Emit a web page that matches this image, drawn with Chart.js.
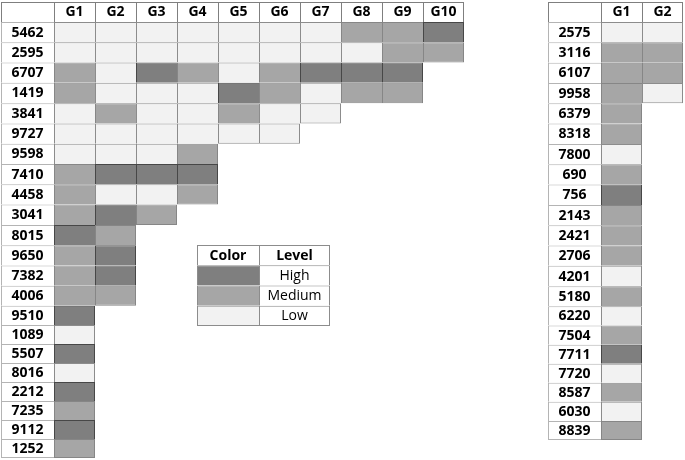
<!DOCTYPE html>
<html>
<head>
<meta charset="utf-8">
<script src="https://cdn.jsdelivr.net/npm/chart.js@4.4.0/dist/chart.umd.min.js"></script>
<style>
  html, body { margin: 0; padding: 0; background: #fff; }
  body { width: 685px; height: 460px; position: relative; overflow: hidden; }
  .box { position: absolute; }
</style>
</head>
<body>
<div class="box" style="left:1px;top:2px;width:463px;height:456px"><canvas id="left"></canvas></div>
<div class="box" style="left:197px;top:245px;width:133px;height:81px"><canvas id="legend"></canvas></div>
<div class="box" style="left:548px;top:2px;width:135px;height:438px"><canvas id="right"></canvas></div>
<script>
// levels: 3 = High, 2 = Medium, 1 = Low
const leftCols = ['G1', 'G2', 'G3', 'G4', 'G5', 'G6', 'G7', 'G8', 'G9', 'G10'];
const leftRows = ['5462', '2595', '6707', '1419', '3841', '9727', '9598', '7410', '4458', '3041', '8015',
  '9650', '7382', '4006', '9510', '1089', '5507', '8016', '2212', '7235', '9112', '1252'];
const leftLevels = [
  [1, 1, 1, 1, 1, 1, 1, 2, 2, 3],
  [1, 1, 1, 1, 1, 1, 1, 1, 2, 2],
  [2, 1, 3, 2, 1, 2, 3, 3, 3],
  [2, 1, 1, 1, 3, 2, 1, 2, 2],
  [1, 2, 1, 1, 2, 1, 1],
  [1, 1, 1, 1, 1, 1],
  [1, 1, 1, 2],
  [2, 3, 3, 3],
  [2, 1, 1, 2],
  [2, 3, 2],
  [3, 2],
  [2, 3],
  [2, 3],
  [2, 2],
  [3], [1], [3], [1], [3], [2], [3], [2]
];

const rightCols = ['G1', 'G2'];
const rightRows = ['2575', '3116', '6107', '9958', '6379', '8318', '7800', '690', '756', '2143', '2421',
  '2706', '4201', '5180', '6220', '7504', '7711', '7720', '8587', '6030', '8839'];
const rightLevels = [
  [1, 1], [2, 2], [2, 2], [2, 1],
  [2], [2], [1], [2], [3], [2], [2], [2], [1], [2], [1], [2], [3], [1], [2], [1], [2]
];

const legendHeader = ['Color', 'Level'];
const legendLevels = [3, 2, 1];
const legendNames = ['High', 'Medium', 'Low'];

const levelColors = { 3: '#7f7f7f', 2: '#a6a6a6', 1: '#f2f2f2' };
const levelLines = { 3: '#474747', 2: '#868686', 1: '#8c8c8c' };

// row heights: header, the first 14 rows are a bit taller than the rest
function rowHeights(n, lower) {
  const h = [20];
  for (let i = 0; i < n; i++) h.push(i < 14 ? 20.3 : lower);
  return h;
}

const cellText = {
  id: 'cellText',
  afterDatasetsDraw(chart) {
    const ctx = chart.ctx;
    ctx.save();
    ctx.textAlign = 'center';
    ctx.textBaseline = 'middle';
    ctx.fillStyle = '#000';
    chart.data.datasets.forEach((ds, i) => {
      const meta = chart.getDatasetMeta(i);
      meta.data.forEach((bar, j) => {
        const cell = ds.cells[j];
        if (!cell || !cell.text) return;
        const p = bar.getCenterPoint();
        ctx.font = (cell.bold ? 'bold ' : '') + '14px "Open Sans"';
        ctx.fillText(cell.text, p.x, p.y + 0.5);
      });
    });
    ctx.restore();
  }
};

// grid: rows of cells {fill, text, bold, line}; widths / heights in scale units
function drawTable(id, grid, widths, heights) {
  const edges = [0];
  widths.forEach(w => edges.push(edges[edges.length - 1] + w));
  const centers = [];
  let acc = 0;
  heights.forEach(h => { centers.push(acc + h / 2); acc += h; });
  const has = (r, c) => !!(grid[r] && grid[r][c]);

  const datasets = widths.map((w, c) => ({
    data: grid.map((row, r) => ({ y: centers[r], x: has(r, c) ? [edges[c], edges[c + 1]] : null })),
    cells: grid.map(row => row[c] || null),
    stack: 'table',
    barThickness: 'flex',
    categoryPercentage: 1,
    barPercentage: 1,
    borderSkipped: false,
    inflateAmount: 0,
    backgroundColor: ctx => has(ctx.dataIndex, c) ? grid[ctx.dataIndex][c].fill : 'transparent',
    borderColor: ctx => has(ctx.dataIndex, c) ? grid[ctx.dataIndex][c].line : 'transparent',
    borderWidth: ctx => {
      const r = ctx.dataIndex;
      return { top: 1, left: 1, right: has(r, c + 1) ? 0 : 1, bottom: has(r + 1, c) ? 0 : 1 };
    }
  }));

  new Chart(document.getElementById(id), {
    type: 'bar',
    data: { datasets },
    options: {
      indexAxis: 'y',
      responsive: true,
      maintainAspectRatio: false,
      animation: false,
      devicePixelRatio: 1,
      layout: { padding: 0 },
      plugins: { legend: { display: false }, tooltip: { enabled: false } },
      scales: {
        x: { type: 'linear', display: false, stacked: false, min: 0, max: edges[edges.length - 1] },
        y: { type: 'linear', display: false, offset: false, reverse: true, min: 0, max: acc }
      }
    },
    plugins: [cellText]
  });
}

function buildGrid(cols, rows, levels) {
  const dark = '#7f7f7f', light = '#b4b4b4';
  const grid = [[{ fill: '#fff', line: dark }].concat(cols.map(t => ({ fill: '#fff', text: t, bold: true, line: dark })))];
  rows.forEach((name, r) => {
    const row = [{ fill: '#fff', text: name, bold: true, line: light }];
    levels[r].forEach(lv => row.push({ fill: levelColors[lv], line: levelLines[lv] }));
    grid.push(row);
  });
  return grid;
}

drawTable('left', buildGrid(leftCols, leftRows, leftLevels),
  [53].concat(leftCols.map(() => 41)), rowHeights(leftRows.length, 19.0));
drawTable('right', buildGrid(rightCols, rightRows, rightLevels),
  [53].concat(rightCols.map(() => 41)), rowHeights(rightRows.length, 19.05));

const legendGrid = [legendHeader.map(t => ({ fill: '#fff', text: t, bold: true, line: '#8c8c8c' }))];
legendLevels.forEach((lv, i) => {
  legendGrid.push([
    { fill: levelColors[lv], line: '#8c8c8c' },
    { fill: '#fff', text: legendNames[i], bold: false, line: '#8c8c8c' }
  ]);
});
drawTable('legend', legendGrid, [62, 71], [20.2, 20.2, 20.2, 20.2]);
</script>
</body>
</html>
